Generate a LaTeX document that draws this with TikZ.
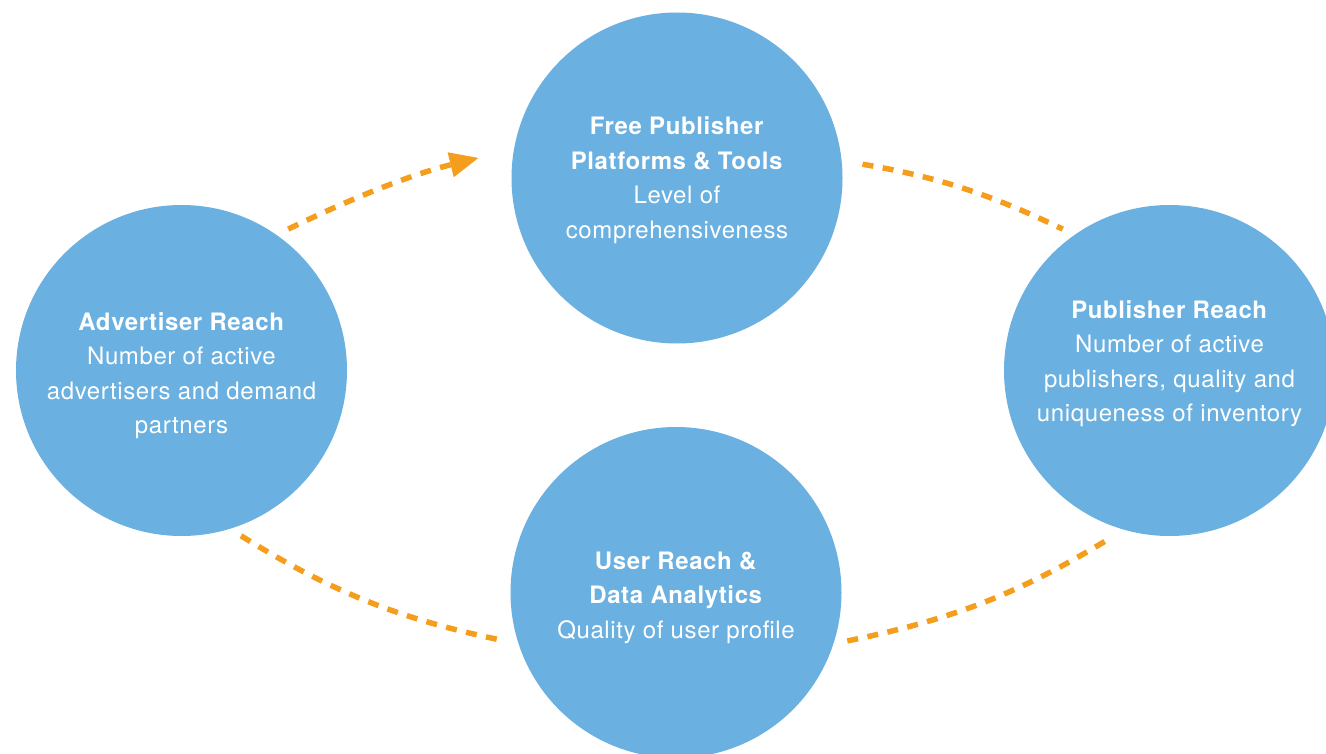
\documentclass[tikz,border=0pt]{standalone}
\usepackage{fontspec}
\setmainfont{TeX Gyre Heros}[LetterSpace=2.5]
\usepackage{tikz}
\usetikzlibrary{positioning,calc,arrows.meta}
\definecolor{hubBlue}{RGB}{106,176,224}
\definecolor{flowOrange}{RGB}{245,158,30}
\tikzset{
  hubCircle/.style={
    circle,
    fill=hubBlue,
    minimum size=331pt,
    inner sep=0pt
  },
  hubText/.style={
    text=white,
    align=center,
    font=\fontsize{24}{34.5}\selectfont
  },
  flowLine/.style={
    draw=flowOrange,
    line width=5.5pt,
    dash pattern=on 11pt off 9.5pt
  },
  flowArrow/.style={
    flowLine,
    -{Triangle[length=29pt,width=24pt]}
  }
}

\begin{document}
\begin{tikzpicture}[x=1pt,y=1pt]
        \useasboundingbox (0,0) rectangle (1326,-754);
        \node[hubCircle] (adv) at (181.5,-370.5) {};
        \node[hubCircle] (free) at (677,-178) {};
        \node[hubCircle] (pub) at (1169.5,-370.5) {};
        \node[hubCircle] (user) at (676,-592.5) {};

        \node[hubText] (advText) at ([yshift=-5pt]adv.center) {\textbf{Advertiser Reach}\\Number of active\\advertisers and demand\\partners};
        \node[hubText] (freeText) at ([yshift=-2pt]free.center) {\textbf{Free Publisher}\\\textbf{Platforms \& Tools}\\Level of\\comprehensiveness};
        \node[hubText] (pubText) at ([yshift=7pt]pub.center) {\textbf{Publisher Reach}\\Number of active\\publishers, quality and\\uniqueness of inventory};
        \node[hubText] (userText) at ([yshift=-5pt]user.center) {\textbf{User Reach \&}\\\textbf{Data Analytics}\\Quality of user profile};

        \draw[flowArrow, shorten <=13pt, shorten >=36pt] (adv.55) to[bend left=6] (free.170);
        \draw[flowLine, shorten <=21pt, shorten >=13pt] (free.6) to[bend left=8] (pub.125);
        \draw[flowLine, shorten <=13pt, shorten >=14pt] (adv.-73) to[bend right=10] (user.198);
        \draw[flowLine, shorten <=14pt, shorten >=14pt] (user.-18) to[bend right=10] (pub.-106);
    \end{tikzpicture}
\end{document}
